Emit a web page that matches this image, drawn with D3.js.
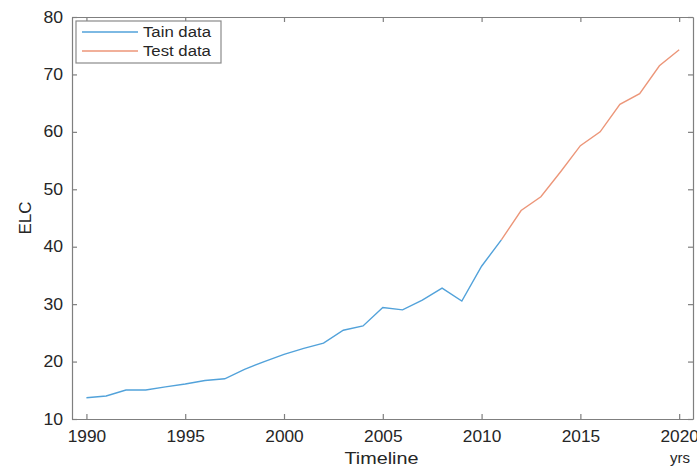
<!DOCTYPE html>
<html>
<head>
<meta charset="utf-8">
<script src="https://cdn.jsdelivr.net/npm/d3@7"></script>
<style>
  body { margin: 0; background: #fff; }
  text { font-family: "Liberation Sans", Arial, sans-serif; fill: #262626; }
</style>
</head>
<body>
<div id="chart"></div>
<script>
// years and ELC values
const trainYears = [1990, 1991, 1992, 1993, 1994, 1995, 1996, 1997, 1998, 1999, 2000,
                    2001, 2002, 2003, 2004, 2005, 2006, 2007, 2008, 2009, 2010, 2011];
const trainValues = [13.7, 14.0, 15.05, 15.05, 15.6, 16.1, 16.7, 17.0, 18.65, 20.0, 21.25,
                     22.3, 23.2, 25.45, 26.2, 29.4, 29.0, 30.7, 32.8, 30.55, 36.6, 41.2];
const testYears = [2011, 2012, 2013, 2014, 2015, 2016, 2017, 2018, 2019, 2020];
const testValues = [41.2, 46.3, 48.7, 53.05, 57.6, 60.0, 64.8, 66.65, 71.5, 74.3];
const xTicks = [1990, 1995, 2000, 2005, 2010, 2015, 2020];
const yTicks = [10, 20, 30, 40, 50, 60, 70, 80];
const seriesNames = ["Tain data", "Test data"];

// the source picture is slightly stretched sideways, so widen glyphs a bit
function stretch(sel, f) {
    sel.each(function() {
        const len = this.getComputedTextLength();
        d3.select(this).attr("textLength", len * f).attr("lengthAdjust", "spacingAndGlyphs");
    });
}

function draw_line_chart(chartID) {
    const width = 697, height = 467;
    const margin = {top: 17, right: 4, bottom: 48, left: 72};
    const axisColor = "#7f7f7f";
    const colors = ["#52a2da", "#ec9679"];

    d3.select(chartID).html("");
    const svg = d3.select(chartID).append("svg")
        .attr("width", width)
        .attr("height", height);

    const x = d3.scaleLinear()
        .domain([1989.27, 2020.7])
        .range([margin.left, width - margin.right]);
    const y = d3.scaleLinear()
        .domain([10, 80])
        .range([height - margin.bottom, margin.top]);

    const plotW = width - margin.right - margin.left;
    const plotH = height - margin.bottom - margin.top;

    // bottom and left axes with ticks pointing inward
    const xAxis = svg.append("g")
        .attr("transform", `translate(0, ${height - margin.bottom})`)
        .call(d3.axisBottom(x).tickValues(xTicks).tickFormat(d3.format("d")).tickSizeInner(-5).tickSizeOuter(0).tickPadding(12));
    const yAxis = svg.append("g")
        .attr("transform", `translate(${margin.left}, 0)`)
        .call(d3.axisLeft(y).tickValues(yTicks).tickSizeInner(-5).tickSizeOuter(0).tickPadding(9));
    // top and right mirrored ticks
    const xTop = svg.append("g")
        .attr("transform", `translate(0, ${margin.top})`)
        .call(d3.axisTop(x).tickValues(xTicks).tickFormat("").tickSizeInner(-5).tickSizeOuter(0));
    const yRight = svg.append("g")
        .attr("transform", `translate(${width - margin.right}, 0)`)
        .call(d3.axisRight(y).tickValues(yTicks).tickFormat("").tickSizeInner(-5).tickSizeOuter(0));

    [xAxis, yAxis, xTop, yRight].forEach(g => {
        g.selectAll("path, line").attr("stroke", axisColor).attr("stroke-width", 1.2);
        g.selectAll("text").style("font-size", "16px").attr("fill", "#262626");
    });
    stretch(xAxis.selectAll("text"), 1.08);
    stretch(yAxis.selectAll("text"), 1.1);

    const line = d3.line()
        .x(d => x(d[0]))
        .y(d => y(d[1]));

    const trainData = trainYears.map((yr, i) => [yr, trainValues[i]]);
    const testData = testYears.map((yr, i) => [yr, testValues[i]]);

    svg.append("path")
        .datum(trainData)
        .attr("fill", "none")
        .attr("stroke", colors[0])
        .attr("stroke-width", 1.4)
        .attr("d", line);
    svg.append("path")
        .datum(testData)
        .attr("fill", "none")
        .attr("stroke", colors[1])
        .attr("stroke-width", 1.4)
        .attr("d", line);

    // axis labels
    const xLabel = svg.append("text")
        .attr("x", margin.left + plotW / 2 - 1)
        .attr("y", 464)
        .attr("text-anchor", "middle")
        .style("font-size", "16.5px")
        .text("Timeline");
    stretch(xLabel, 1.2);
    svg.append("text")
        .attr("x", 680)
        .attr("y", 463)
        .attr("text-anchor", "middle")
        .style("font-size", "15px")
        .text("yrs");
    svg.append("text")
        .attr("transform", `translate(31, ${margin.top + plotH / 2}) rotate(-90)`)
        .attr("text-anchor", "middle")
        .style("font-size", "17px")
        .text("ELC");

    // legend
    const legend = svg.append("g").attr("transform", "translate(76, 21)");
    legend.append("rect")
        .attr("width", 145)
        .attr("height", 42)
        .attr("fill", "#fff")
        .attr("stroke", "#8a8a8a")
        .attr("stroke-width", 1.2);
    const items = legend.selectAll(".legend")
        .data(seriesNames)
        .enter()
        .append("g")
        .attr("class", "legend")
        .attr("transform", (d, i) => `translate(0, ${11 + i * 19})`);
    items.append("line")
        .attr("x1", 6).attr("x2", 62)
        .attr("stroke", (d, i) => colors[i])
        .attr("stroke-width", 1.4);
    const legendText = items.append("text")
        .attr("x", 67)
        .attr("dy", "0.35em")
        .style("font-size", "15.5px")
        .text(d => d);
    stretch(legendText, 1.08);
}

draw_line_chart("#chart");
</script>
</body>
</html>
